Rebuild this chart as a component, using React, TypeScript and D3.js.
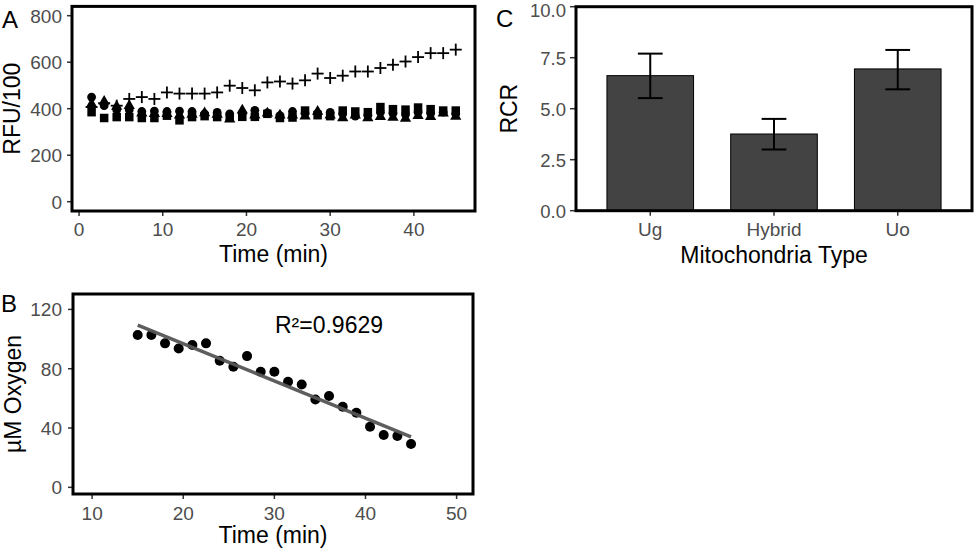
import React from "react";
import * as d3 from "d3";

// ---------- Panel A data ----------
const timeA = [1.5,3,4.5,6,7.5,9,10.5,12,13.5,15,16.5,18,19.5,21,22.5,24,25.5,27,28.5,30,31.5,33,34.5,36,37.5,39,40.5,42,43.5,45];
const crossA = [407,424,413,442,450,442,470,465,465,465,470,499,489,479,513,517,508,522,551,532,542,560,560,575,589,603,622,639,639,654];
const circleA = [450,413,396,396,388,390,388,390,388,378,384,378,380,393,382,370,388,380,380,384,378,368,372,385,380,375,385,380,385,378];
const triangleA = [420,431,410,413,380,378,378,372,375,381,375,355,393,372,380,372,372,368,388,372,360,372,360,365,362,358,370,365,380,366];
const squareA = [385,360,364,364,360,360,370,350,364,368,364,362,365,365,378,360,362,392,372,368,392,388,385,407,398,396,405,398,392,392];
const yTicksA = [0,200,400,600,800];
const xTicksA = [0,10,20,30,40];

// ---------- Panel B data ----------
const timeB = [15,16.5,18,19.5,21,22.5,24,25.5,27,28.5,30,31.5,33,34.5,36,37.5,39,40.5,42,43.5,45];
const oxygenB = [102.7,102.7,97.1,93.7,96,97.1,85.4,81.3,88.5,78,78,71.2,69.4,59.3,61.6,54.4,50.3,40.9,35.3,34.6,29.2];
const yTicksB = [0,40,80,120];
const xTicksB = [10,20,30,40,50];
const r2Label = "R²=0.9629";

// ---------- Panel C data ----------
const typesC = ["Ug","Hybrid","Uo"];
const rcrC = [6.62,3.76,6.95];
const rcrLow = [5.52,3.0,5.95];
const rcrHigh = [7.7,4.5,7.88];
const yTicksC = [0,2.5,5,7.5,10];

const FONT = "'Liberation Sans', Arial, Helvetica, sans-serif";
const TICK_COL = "#4d4d4d";
const TICK_FS = 19;
const TITLE_FS = 23;

function Box({ x0, x1, y0, y1 }: { x0: number; x1: number; y0: number; y1: number }) {
  return <rect x={x0} y={y0} width={x1 - x0} height={y1 - y0} fill="none" stroke="#000" strokeWidth={3} />;
}

export default function App() {
  // Panel A scales
  const xA = d3.scaleLinear().domain([-0.84, 47.3]).range([72, 475]);
  const yA = d3.scaleLinear().domain([-40, 840]).range([211, 6.4]);
  // Panel B scales
  const xB = d3.scaleLinear().domain([7.9, 51.8]).range([73, 473]);
  const yB = d3.scaleLinear().domain([-4.5, 130.4]).range([494, 294]);
  // Panel C scales
  const xC = d3.scaleBand<string>().domain(typesC).range([576, 972]).paddingInner(0.3).paddingOuter(0.25);
  const yC = d3.scaleLinear().domain([0, 10]).range([210.7, 6.7]);

  // regression for B
  const mx = d3.mean(timeB)!;
  const my = d3.mean(oxygenB)!;
  let sxy = 0, sxx = 0;
  timeB.forEach((t, i) => { sxy += (t - mx) * (oxygenB[i] - my); sxx += (t - mx) * (t - mx); });
  const slope = sxy / sxx;
  const icpt = my - slope * mx;
  const xMinB = d3.min(timeB)!;
  const xMaxB = d3.max(timeB)!;

  const tri = d3.symbol().type(d3.symbolTriangle).size(55)();
  const sq = 8.5;
  const arm = 6;

  const A = { x0: 72, x1: 475, y0: 6.4, y1: 211 };
  const B = { x0: 73, x1: 473, y0: 294, y1: 494 };
  const C = { x0: 576, x1: 972, y0: 6.7, y1: 210.7 };

  return (
    <svg width={975} height={556} style={{ position: "absolute", left: 0, top: 0, background: "#fff" }} fontFamily={FONT}>
      <rect x={0} y={0} width={975} height={556} fill="#fff" />

      {/* ===== Panel A ===== */}
      <text x={2} y={28} fontSize={24} fill="#000">A</text>
      {yTicksA.map((v) => (
        <g key={"ya" + v}>
          <line x1={A.x0 - 5} x2={A.x0} y1={yA(v)} y2={yA(v)} stroke="#333" strokeWidth={1.5} />
          <text x={A.x0 - 10} y={yA(v) + 6.8} textAnchor="end" fontSize={TICK_FS} fill={TICK_COL}>{v}</text>
        </g>
      ))}
      {xTicksA.map((v) => (
        <g key={"xa" + v}>
          <line x1={xA(v)} x2={xA(v)} y1={A.y1} y2={A.y1 + 5} stroke="#333" strokeWidth={1.5} />
          <text x={xA(v)} y={A.y1 + 24.5} textAnchor="middle" fontSize={TICK_FS} fill={TICK_COL}>{v}</text>
        </g>
      ))}
      <text x={(A.x0 + A.x1) / 2} y={262} textAnchor="middle" fontSize={TITLE_FS} fill="#000">Time (min)</text>
      <text transform={`translate(20,${(A.y0 + A.y1) / 2}) rotate(-90)`} textAnchor="middle" fontSize={TITLE_FS} fill="#000">RFU/100</text>
      {timeA.map((t, i) => (
        <rect key={"sq" + i} x={xA(t) - sq / 2} y={yA(squareA[i]) - sq / 2} width={sq} height={sq} fill="#000" />
      ))}
      {timeA.map((t, i) => (
        <path key={"tr" + i} d={tri!} transform={`translate(${xA(t)},${yA(triangleA[i])})`} fill="#000" />
      ))}
      {timeA.map((t, i) => (
        <circle key={"ci" + i} cx={xA(t)} cy={yA(circleA[i])} r={4.4} fill="#000" />
      ))}
      {timeA.map((t, i) => (
        <g key={"cr" + i} stroke="#000" strokeWidth={1.8}>
          <line x1={xA(t) - arm} x2={xA(t) + arm} y1={yA(crossA[i])} y2={yA(crossA[i])} />
          <line x1={xA(t)} x2={xA(t)} y1={yA(crossA[i]) - arm} y2={yA(crossA[i]) + arm} />
        </g>
      ))}
      <Box {...A} />

      {/* ===== Panel B ===== */}
      <text x={1} y={312} fontSize={24} fill="#000">B</text>
      {yTicksB.map((v) => (
        <g key={"yb" + v}>
          <line x1={B.x0 - 5} x2={B.x0} y1={yB(v)} y2={yB(v)} stroke="#333" strokeWidth={1.5} />
          <text x={B.x0 - 11} y={yB(v) + 6.8} textAnchor="end" fontSize={TICK_FS} fill={TICK_COL}>{v}</text>
        </g>
      ))}
      {xTicksB.map((v) => (
        <g key={"xb" + v}>
          <line x1={xB(v)} x2={xB(v)} y1={B.y1} y2={B.y1 + 5} stroke="#333" strokeWidth={1.5} />
          <text x={xB(v)} y={B.y1 + 26} textAnchor="middle" fontSize={TICK_FS} fill={TICK_COL}>{v}</text>
        </g>
      ))}
      <text x={(B.x0 + B.x1) / 2} y={543} textAnchor="middle" fontSize={TITLE_FS} fill="#000">Time (min)</text>
      <text transform={`translate(21,${(B.y0 + B.y1) / 2}) rotate(-90)`} textAnchor="middle" fontSize={TITLE_FS} fill="#000">µM Oxygen</text>
      {timeB.map((t, i) => (
        <circle key={"pb" + i} cx={xB(t)} cy={yB(oxygenB[i])} r={5} fill="#000" />
      ))}
      <line x1={xB(xMinB)} x2={xB(xMaxB)} y1={yB(icpt + slope * xMinB)} y2={yB(icpt + slope * xMaxB)} stroke="#555" strokeOpacity={0.95} strokeWidth={3.5} />
      <text x={329} y={333} textAnchor="middle" fontSize={TITLE_FS} fill="#000">{r2Label}</text>
      <Box {...B} />

      {/* ===== Panel C ===== */}
      <text x={496} y={27} fontSize={24} fill="#000">C</text>
      {yTicksC.map((v) => (
        <g key={"yc" + v}>
          <line x1={C.x0 - 6} x2={C.x0} y1={yC(v)} y2={yC(v)} stroke="#333" strokeWidth={1.5} />
          <text x={C.x0 - 10} y={Math.max(yC(v) + 7.5, 17)} textAnchor="end" fontSize={18.5} fill={TICK_COL}>{v.toFixed(1)}</text>
        </g>
      ))}
      {typesC.map((c) => (
        <g key={"xc" + c}>
          <line x1={xC(c)! + xC.bandwidth() / 2} x2={xC(c)! + xC.bandwidth() / 2} y1={C.y1} y2={C.y1 + 5} stroke="#333" strokeWidth={1.5} />
          <text x={xC(c)! + xC.bandwidth() / 2} y={C.y1 + 25} textAnchor="middle" fontSize={TICK_FS} fill={TICK_COL}>{c}</text>
        </g>
      ))}
      <text x={(C.x0 + C.x1) / 2} y={263} textAnchor="middle" fontSize={TITLE_FS} fill="#000">Mitochondria Type</text>
      <text transform={`translate(517,${(C.y0 + C.y1) / 2}) rotate(-90)`} textAnchor="middle" fontSize={TITLE_FS} fill="#000">RCR</text>
      {typesC.map((c, i) => (
        <rect key={"bar" + c} x={xC(c)!} y={yC(rcrC[i])} width={xC.bandwidth()} height={yC(0) - yC(rcrC[i])} fill="#434343" stroke="#000" strokeWidth={1} />
      ))}
      {typesC.map((c, i) => {
        const cx = xC(c)! + xC.bandwidth() / 2;
        const hw = xC.step() * 0.1;
        return (
          <g key={"eb" + c} stroke="#000" strokeWidth={2}>
            <line x1={cx} x2={cx} y1={yC(rcrHigh[i])} y2={yC(rcrLow[i])} />
            <line x1={cx - hw} x2={cx + hw} y1={yC(rcrHigh[i])} y2={yC(rcrHigh[i])} />
            <line x1={cx - hw} x2={cx + hw} y1={yC(rcrLow[i])} y2={yC(rcrLow[i])} />
          </g>
        );
      })}
      <Box {...C} />
    </svg>
  );
}
